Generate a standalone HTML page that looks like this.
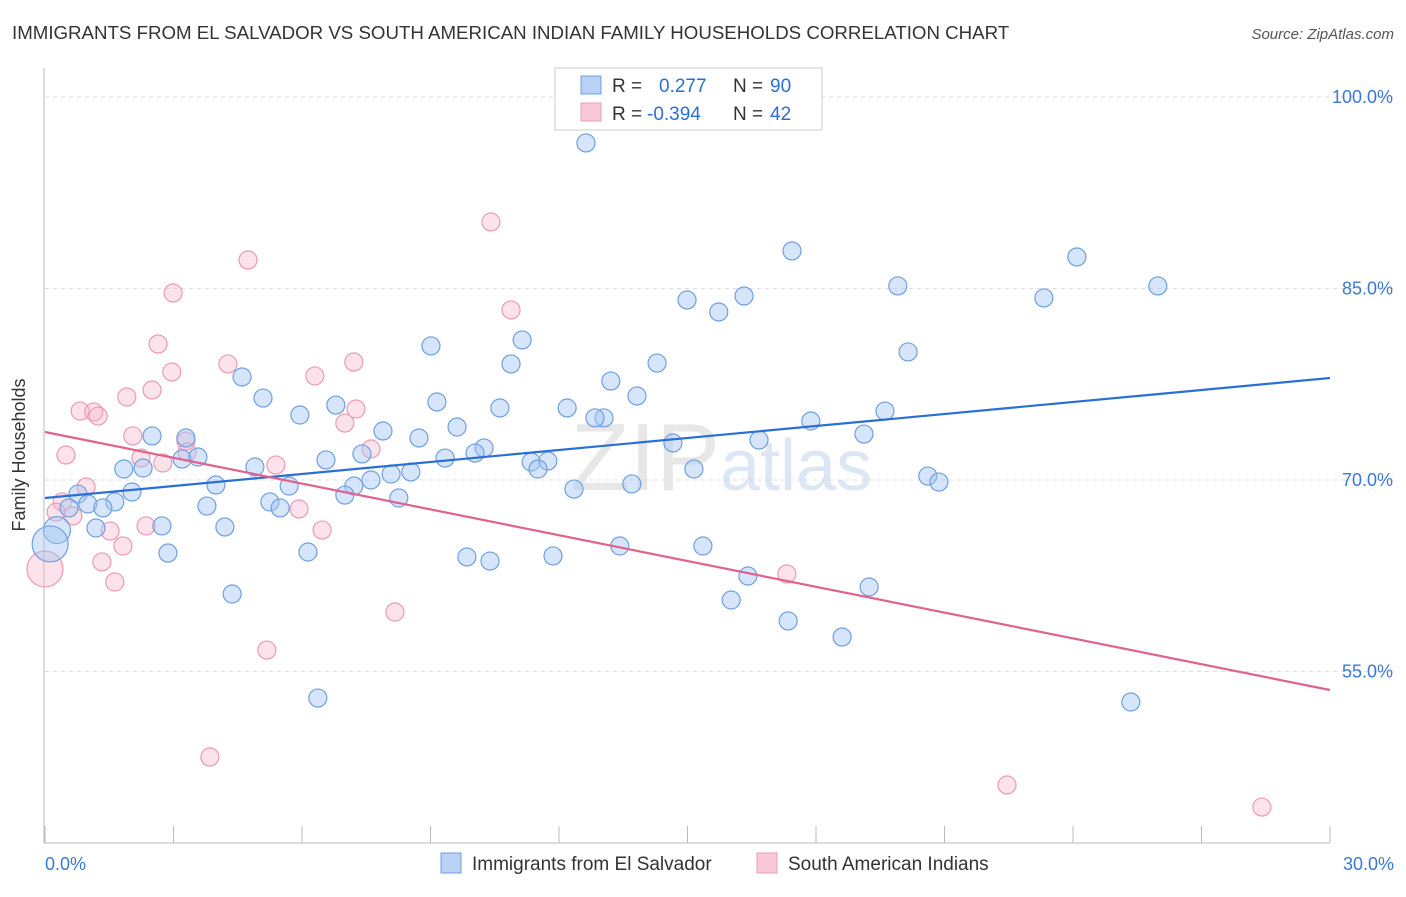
<!DOCTYPE html>
<html><head><meta charset="utf-8"><style>
body{margin:0;background:#fff;font-family:"Liberation Sans",sans-serif}
svg text{font-family:"Liberation Sans",sans-serif}
</style></head><body>
<svg id="chart" width="1406" height="892" viewBox="0 0 1406 892">
<text x="12" y="39" font-size="18.7" fill="#333">IMMIGRANTS FROM EL SALVADOR VS SOUTH AMERICAN INDIAN FAMILY HOUSEHOLDS CORRELATION CHART</text>
<text x="1394" y="39" font-size="15" fill="#555" font-style="italic" text-anchor="end">Source: ZipAtlas.com</text>
<g id="grid"></g>
<text x="720" y="490" font-size="96" fill="#d8d8d8" font-family="Liberation Serif" text-anchor="end" opacity="0.6">ZIP</text>
<text x="720" y="490" font-size="72" fill="#c5d6ee" opacity="0.6">atlas</text>
<g id="pts"></g>
<g id="lines"></g>
<text x="25" y="455" font-size="18" fill="#333" text-anchor="middle" transform="rotate(-90 25 455)">Family Households</text>
<g>
<rect x="555" y="68" width="267" height="62" fill="#fff" stroke="#ccc"/>
<rect x="581" y="76" width="20" height="18" fill="#b9d1f4" stroke="#6f9fe0"/>
<rect x="581" y="103" width="20" height="18" fill="#f9c9d8" stroke="#eb9ab4"/>
<text x="612" y="92" font-size="19" fill="#333">R = </text><text x="659" y="92" font-size="19" fill="#2a6fd6">0.277</text>
<text x="733" y="92" font-size="19" fill="#333">N = </text><text x="770" y="92" font-size="19" fill="#2a6fd6">90</text>
<text x="612" y="120" font-size="19" fill="#333">R = </text><text x="647" y="120" font-size="19" fill="#2a6fd6">-0.394</text>
<text x="733" y="120" font-size="19" fill="#333">N = </text><text x="770" y="120" font-size="19" fill="#2a6fd6">42</text>
</g>
<g>
<rect x="441" y="853" width="20" height="20" fill="#b9d1f4" stroke="#6f9fe0"/>
<text x="472" y="870" font-size="19" fill="#333">Immigrants from El Salvador</text>
<rect x="757" y="853" width="20" height="20" fill="#f9c9d8" stroke="#eb9ab4"/>
<text x="788" y="870" font-size="19" fill="#333">South American Indians</text>
</g>
</svg>
<script>
const xTicks=[0,3,6,9,12,15,18,21,24,27,30];
const yTicks=[100,85,70,55];
const yTickLabels=["100.0%","85.0%","70.0%","55.0%"];
const xLabels=["0.0%","30.0%"];
const blueX=[12.63,17.44,24.09,25.98,19.91,16.32,14.99,23.32,15.73,11.14,9.01,20.15,14.29,10.88,4.60,13.21,13.82,5.09,9.15,6.79,5.95,10.62,12.19,19.61,13.05,12.84,17.88,9.62,7.89,2.50,3.29,8.73,19.12,16.67,14.66,10.25,10.04,7.40,9.34,3.20,3.57,6.56,1.84,2.29,4.90,11.35,11.74,11.51,15.15,8.54,8.08,7.61,20.61,20.87,3.99,7.21,5.70,13.70,2.03,12.35,0.77,8.26,7.00,5.25,1.63,1.00,0.56,1.35,5.49,3.78,1.19,2.73,4.20,0.28,0.12,13.42,15.36,6.14,2.87,9.85,11.86,10.39,16.41,19.24,4.37,16.02,17.35,18.61,6.37,25.35];
const blueY=[96.40,87.94,87.47,85.20,85.20,84.41,84.10,84.26,83.16,80.97,80.50,80.03,79.16,79.09,78.07,77.75,76.58,76.42,76.11,75.87,75.09,75.64,75.64,75.40,74.86,74.86,74.62,74.15,73.84,73.45,73.29,73.29,73.60,73.13,72.90,72.51,72.11,72.04,71.72,71.64,71.80,71.57,70.86,70.94,71.02,71.41,71.49,70.86,70.86,70.63,70.47,70.00,70.31,69.84,69.61,69.53,69.53,69.69,69.06,69.29,68.90,68.59,68.82,68.28,68.28,68.12,67.81,67.81,67.81,67.96,66.24,66.40,66.32,66.08,64.99,64.83,64.83,64.36,64.28,63.97,64.05,63.65,62.48,61.62,61.07,60.60,58.96,57.70,52.92,52.61];
const blueSize=blueY.map((v,i)=>i===74?2.0:(i===73?1.5:1));
const pinkX=[10.41,4.74,2.99,10.88,2.64,4.27,7.21,2.96,6.30,2.50,1.91,0.82,1.14,1.24,7.26,7.00,2.05,3.29,7.61,0.49,2.24,2.75,5.39,0.96,0.40,0.65,0.26,5.93,6.47,2.36,1.52,1.82,1.33,17.32,1.63,0.0,8.17,5.18,3.85,22.46,28.41,3.32];
const pinkY=[90.21,87.23,84.65,83.32,80.65,79.09,79.24,78.46,78.15,77.05,76.50,75.40,75.33,75.01,75.56,74.46,73.45,73.05,72.43,71.96,71.72,71.33,71.17,69.45,68.28,67.18,67.49,67.73,66.08,66.40,66.00,64.83,63.58,62.64,62.01,63.03,59.66,56.68,48.30,46.11,44.38,72.19];
const pinkSize=pinkY.map((v,i)=>i===35?2.0:1);
const blueTrend=[68.59,77.99];
const pinkTrend=[73.76,53.55];
const NS="http://www.w3.org/2000/svg";
const X=v=>45+v/30*1285, Y=v=>97+(100-v)*191.5/15;
function mk(t,a,p){const e=document.createElementNS(NS,t);for(const k in a)e.setAttribute(k,a[k]);p.appendChild(e);return e;}
const grid=document.getElementById('grid');
const ax=mk('line',{x1:44,y1:68,x2:44,y2:843,stroke:'#bbb'},grid);


const bx=mk('line',{x1:44,y1:843,x2:1330,y2:843,stroke:'#bbb'},grid);


yTicks.forEach((t,i)=>{
 const g=mk('line',{x1:45,x2:1394,y1:Y(t),y2:Y(t),stroke:'#ddd','stroke-dasharray':'4 4'},grid);
 
 
 const l=mk('text',{x:1393,y:Y(t)+6,'font-size':18,fill:'#3a78d8','text-anchor':'end'},grid);l.textContent=yTickLabels[i];
 
 
});
xTicks.forEach(t=>{
 const k=mk('line',{x1:X(t),x2:X(t),y1:826,y2:843,stroke:'#bbb'},grid);
 
 
});
[[0,'start',45],[30,'end',1394]].forEach((d,i)=>{
 const l=mk('text',{x:d[2],y:870,'font-size':18,fill:'#3a78d8','text-anchor':d[1]},grid);l.textContent=xLabels[i];
 
 
});
const pts=document.getElementById('pts');
pinkX.forEach((x,i)=>{
 const c=mk('circle',{cx:X(x),cy:Y(pinkY[i]),r:9*pinkSize[i],fill:'rgba(245,175,198,0.35)',stroke:'#eb9ab4','stroke-width':1.2},pts);
 
 
});
blueX.forEach((x,i)=>{
 const c=mk('circle',{cx:X(x),cy:Y(blueY[i]),r:9*blueSize[i],fill:'rgba(165,198,242,0.45)',stroke:'#6f9fe0','stroke-width':1.2},pts);
 
 
});
const lines=document.getElementById('lines');
const bl=mk('line',{x1:X(0),y1:Y(blueTrend[0]),x2:X(30),y2:Y(blueTrend[1]),stroke:'#2a6fd6','stroke-width':2.2},lines);


const pl=mk('line',{x1:X(0),y1:Y(pinkTrend[0]),x2:X(30),y2:Y(pinkTrend[1]),stroke:'#e0628e','stroke-width':2.2},lines);


</script>
</body></html>
